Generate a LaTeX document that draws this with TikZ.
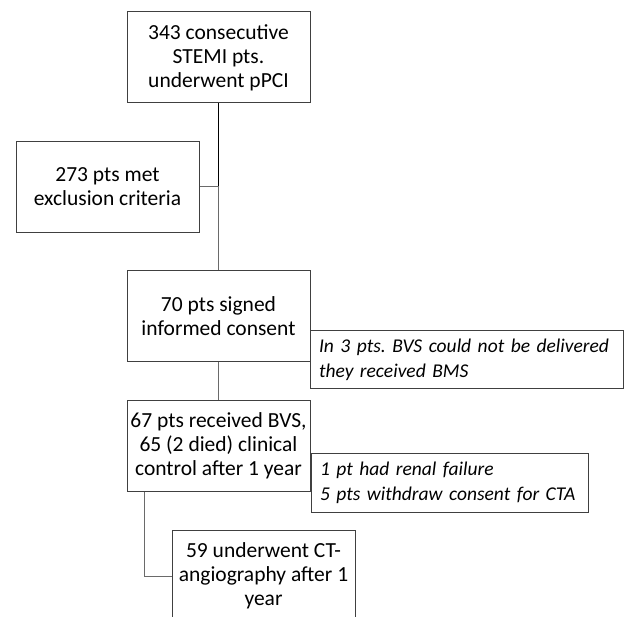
\documentclass[tikz,border=0pt]{standalone}
\usepackage{fontspec}
\setmainfont{Carlito}
\usetikzlibrary{positioning}

\definecolor{boxgray}{HTML}{404040}
\definecolor{linegray}{HTML}{6a6a6a}

\tikzset{
  stepbox/.style={draw=boxgray, line width=1pt, minimum width=183pt, minimum height=91pt,
    inner sep=0pt, align=center, font=\fontsize{21.5}{24}\selectfont},
  notebox/.style={draw=boxgray, line width=1pt, minimum height=58pt, inner xsep=9pt,
    inner ysep=0pt, align=left, font=\fontsize{19.5}{24.5}\selectfont\itshape\frenchspacing},
  link/.style={draw=linegray, line width=1pt}
}

\begin{document}
\begin{tikzpicture}[x=1pt, y=-1pt]
\clip (0,0) rectangle (624,617);

% main boxes
\node[stepbox] (pci) at (218.5,57.5) {343 consecutive\\STEMI pts.\\underwent pPCI};
\node[stepbox] (excl) at (107.5,187) {273 pts met\\exclusion criteria};
\node[stepbox] (consent) at (218.5,316.5) {70 pts signed\\informed consent};
\node[stepbox] (bvs) at (218.5,446) {67 pts received BVS,\\65 (2 died) clinical\\control after 1 year};
\node[stepbox] (ct) at (263.5,576) {59 underwent CT-\\angiography after 1\\year};

% side notes
\node[notebox, text width=295pt] (bms) at (466.5,360) {In 3 pts. BVS could not be delivered\\they received BMS};
\node[notebox, text width=259pt] (cta) at (449.5,483) {1 pt had renal failure\\5 pts withdraw consent for CTA};

% connectors
\coordinate (split) at (pci.south |- excl.east);
\draw[line width=1.5pt] (pci.south) -- (split);
\draw[link] (split) -- (consent.north);
\draw[link] (excl.east) -- (split);
\draw[link] (consent.south) -- (bvs.north);
\draw[link] ([xshift=18pt]bvs.south west) |- (ct.west);

\end{tikzpicture}
\end{document}
